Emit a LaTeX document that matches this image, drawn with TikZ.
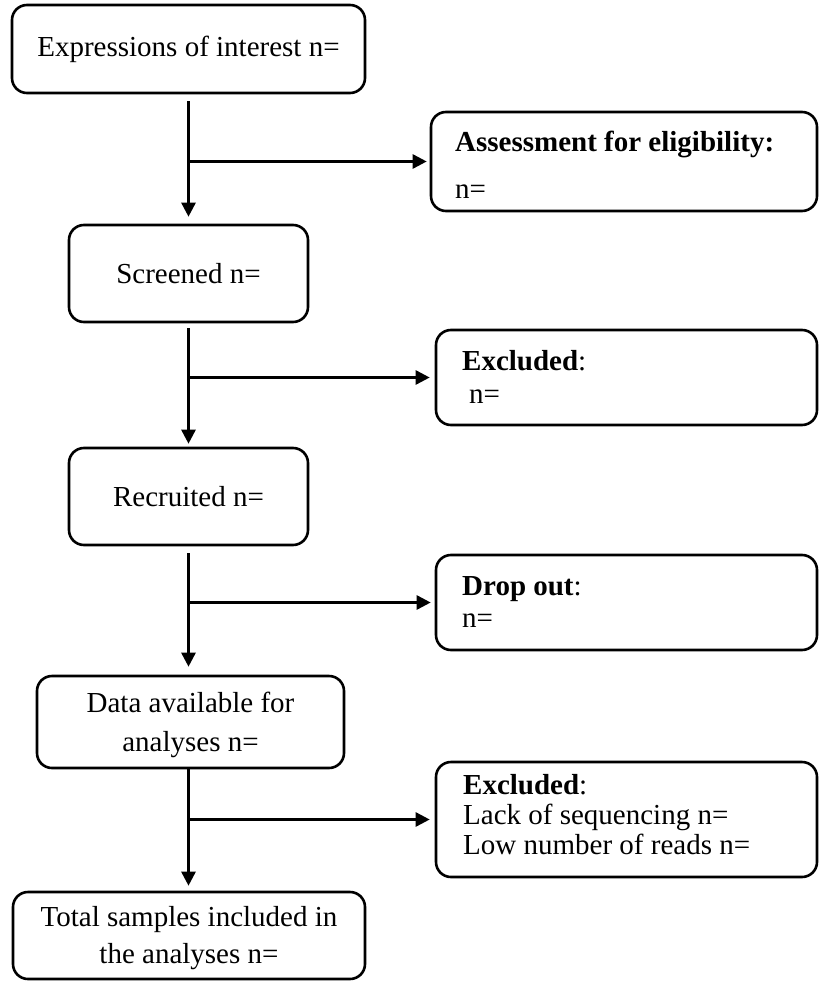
\documentclass[tikz,border=0pt]{standalone}
\usepackage{fontspec}
\setmainfont{Liberation Serif}
\usetikzlibrary{arrows.meta}
\newcommand\myfs{\fontsize{29}{30}\selectfont}
\begin{document}
\begin{tikzpicture}[x=1pt,y=-1pt,
  box/.style={draw, line width=2.6pt, rounded corners=15pt, inner sep=0pt, align=center, font=\myfs},
  txt/.style={anchor=base west, inner sep=0pt, font=\myfs},
  arr/.style={line width=2.6pt, -{Triangle[length=14pt,width=14pt]}}
]
\useasboundingbox (0,0) rectangle (818,981);

% main column
\node[box, minimum width=353pt, minimum height=88pt] (A) at (188.5,49) {Expressions of interest n=};
\node[box, minimum width=239pt, minimum height=97pt] (C) at (188.5,273.5) {Screened n=};
\node[box, minimum width=239pt, minimum height=97pt] (E) at (188.5,496.5) {Recruited n=};
\node[box, minimum width=307pt, minimum height=92pt] (G) at (190.5,722) {\rule{0pt}{26pt}Data available for\\[9pt]analyses n=};
\node[box, minimum width=352pt, minimum height=87pt] (I) at (189,935.5) {\rule{0pt}{26pt}Total samples included in\\[7pt]the analyses n=};

% side boxes
\node[box, minimum width=386pt, minimum height=99pt] (B) at (624,161.5) {};
\node[box, minimum width=381pt, minimum height=95pt] (D) at (626.5,377.5) {};
\node[box, minimum width=381pt, minimum height=95pt] (F) at (626.5,602.5) {};
\node[box, minimum width=381pt, minimum height=115pt] (H) at (626.5,819.5) {};

% side box texts
\node[txt] (B1) at (455,152) {\textbf{Assessment for eligibility:}};
\node[txt] (B2) at (455,199) {n=};
\node[txt] (D1) at (462,370) {\textbf{Excluded}:};
\node[txt] (D2) at (469,403) {n=};
\node[txt] (F1) at (462,595) {\textbf{Drop out}:};
\node[txt] (F2) at (462,627) {n=};
\node[txt] (H1) at (463,794) {\textbf{Excluded}:};
\node[txt] (H2) at (463,824) {Lack of sequencing n=};
\node[txt] (H3) at (463,854) {Low number of reads n=};

% vertical arrows
\draw[arr, shorten <=7pt, shorten >=7pt] (A.south) -- (A.south |- C.north);
\draw[arr, shorten <=5pt, shorten >=3pt] (C.south) -- (C.south |- E.north);
\draw[arr, shorten <=7pt, shorten >=8pt] (E.south) -- (E.south |- G.north);
\draw[arr, shorten >=5pt] (A.south |- G.south) -- (A.south |- I.north);

% branch arrows
\draw[arr, shorten >=3pt] (A.south |- B.west) -- (B.west);
\draw[arr, shorten >=5pt] (A.south |- D.west) -- (D.west);
\draw[arr, shorten >=4pt] (A.south |- F.west) -- (F.west);
\draw[arr, shorten >=5pt] (A.south |- H.west) -- (H.west);
\end{tikzpicture}
\end{document}
